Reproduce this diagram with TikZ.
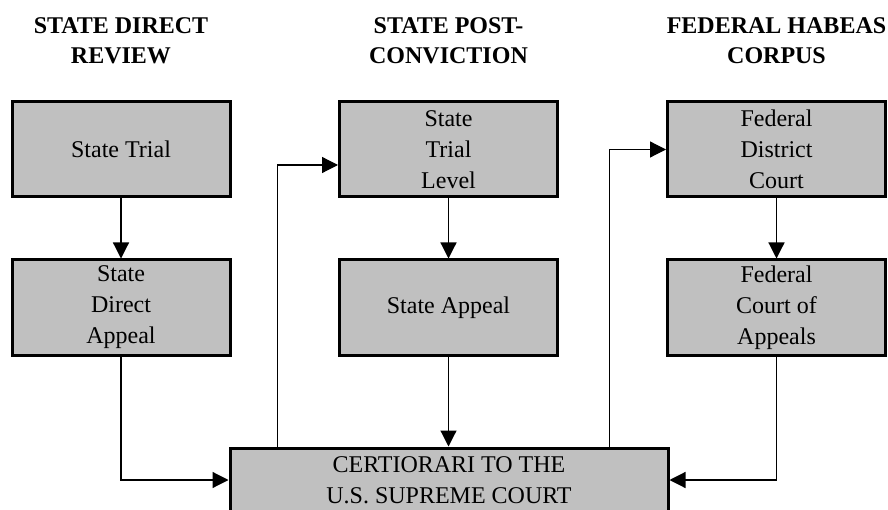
\documentclass[tikz,border=0pt]{standalone}
\usepackage{fontspec}
\setmainfont{Liberation Serif}
\usetikzlibrary{arrows.meta}
\definecolor{boxgray}{RGB}{192,192,192}

\begin{document}
\begin{tikzpicture}[x=1pt, y=-1pt,
        court/.style={draw, line width=3pt, fill=boxgray, minimum width=218pt, minimum height=95pt,
            align=center, inner sep=0pt, font=\fontsize{24}{31}\selectfont},
        flow/.style={line width=1.2pt, -{Triangle[width=16pt, length=16pt]}},
        heading/.style={align=center, font=\fontsize{24}{30.5}\selectfont\bfseries}]
        \useasboundingbox (0,0) rectangle (888,510);

        % Column headings
        \node[heading] (hdirect) at (121,40.5) {STATE DIRECT\\REVIEW};
        \node[heading] (hpost) at (448.5,40.5) {STATE POST-\\CONVICTION};
        \node[heading] (hfed) at (776.5,40.5) {FEDERAL HABEAS\\CORPUS};

        % Row 1: trial level courts
        \node[court] (strial) at (121,149.5) {State Trial};
        \node[court] (stlevel) at (448.5,149.5) {State\\Trial\\Level};
        \node[court] (fdist) at (776.5,149.5) {Federal\\District\\Court};

        % Row 2: appeals
        \node[court] (dappeal) at (121,307.5) {State\\Direct\\Appeal};
        \node[court] (sappeal) at (448.5,307.5) {State Appeal};
        \node[court] (fappeal) at (776.5,307.5) {Federal\\Court of\\Appeals};

        % Supreme Court
        \node[court, minimum width=438pt, minimum height=64pt] (cert) at (449,480)
            {CERTIORARI TO THE\\U.S. SUPREME COURT};

        % Down each column
        \draw[flow] (strial) -- (dappeal);
        \draw[flow] (stlevel) -- (sappeal);
        \draw[flow] (fdist) -- (fappeal);
        \draw[flow] (sappeal) -- (sappeal |- cert.north);

        % Into certiorari from the sides
        \draw[flow] (dappeal) |- (cert);
        \draw[flow] (fappeal) |- (cert);

        % Out of certiorari to the next stage
        \draw[flow] ([xshift=49pt]cert.north west) |- ([yshift=-15.5pt]stlevel.west);
        \draw[flow] ([xshift=-60pt]cert.north east) |- (fdist.west);
    \end{tikzpicture}
\end{document}
